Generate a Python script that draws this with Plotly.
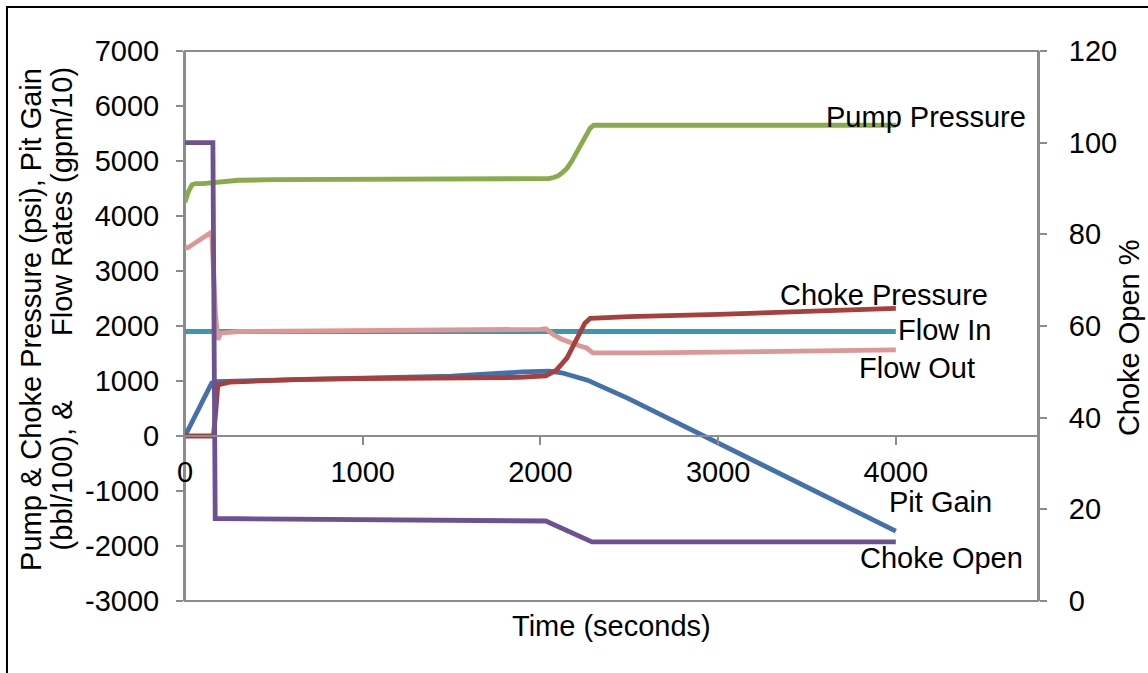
import plotly.graph_objects as go

# Well-control simulation: pressures, pit gain and flow rates vs time
FONT = "Liberation Sans, Arial, sans-serif"

# Pump pressure (psi)
pump_t = [0, 20, 40, 60, 100, 150, 170, 200, 300, 500, 800, 1000, 1200, 1400, 1600, 1800,
          2000, 2045, 2075, 2100, 2125, 2150, 2175, 2195, 2220, 2240, 2260, 2280, 2300, 2600, 3000, 3500, 4000]
pump_p = [4250, 4450, 4570, 4590, 4590, 4600, 4610, 4630, 4650, 4660, 4660, 4660, 4675, 4675, 4660, 4660,
          4670, 4680, 4700, 4730, 4790, 4870, 4990, 5110, 5250, 5380, 5500, 5600, 5650, 5650, 5650, 5650, 5650]

# Choke pressure (psi)
choke_t = [0, 160, 172, 185, 250, 650, 1000, 1500, 1880, 2030, 2090, 2150, 2200, 2250, 2280,
           2500, 3000, 3500, 4000]
choke_p = [0, 0, 400, 930, 980, 1030, 1045, 1060, 1065, 1095, 1200, 1420, 1740, 2050, 2140,
           2170, 2210, 2260, 2320]

# Pit gain (bbl/100)
pit_t = [0, 150, 170, 500, 1000, 1500, 1900, 2050, 2120, 2170, 2220, 2265, 2320, 2400, 2490, 4000]
pit_g = [0, 960, 990, 1010, 1040, 1090, 1165, 1180, 1150, 1105, 1060, 1015, 935, 820, 690, -1730]

# Flow in (gpm/10)
fin_t = [0, 1000, 2000, 3000, 4000]
fin_q = [1900, 1900, 1900, 1900, 1900]

# Flow out (gpm/10)
fout_t = [0, 15, 150, 160, 172, 185, 200, 300, 1000, 1500, 2000, 2030, 2070, 2120, 2170, 2220, 2260, 2295,
          2600, 3000, 3500, 4000]
fout_q = [3440, 3420, 3710, 3000, 2200, 1750, 1870, 1900, 1910, 1920, 1940, 1950, 1850, 1760, 1690, 1640, 1600, 1510,
          1510, 1525, 1545, 1565]

# Choke opening (%)
open_t = [0, 157, 170, 500, 1000, 1500, 2000, 2030, 2290, 3000, 4000]
open_pct = [100, 100, 18.0, 17.9, 17.8, 17.7, 17.5, 17.45, 12.9, 12.9, 12.9]

x_ticks = [0, 1000, 2000, 3000, 4000]
y_ticks = [-3000, -2000, -1000, 0, 1000, 2000, 3000, 4000, 5000, 6000, 7000]
y_labels = ["-3000", "-2000", "-1000", "0", "1000", "2000", "3000", "4000", "5000", "6000", "7000"]
y2_ticks = [0, 20, 40, 60, 80, 100, 120]

AXIS_GREY = "#8C8C8C"
LW = 4.8

fig = go.Figure()
fig.add_trace(go.Scatter(x=pit_t, y=pit_g, mode="lines", name="Pit Gain",
                         line=dict(color="#4271AB", width=LW)))
fig.add_trace(go.Scatter(x=fin_t, y=fin_q, mode="lines", name="Flow In",
                         line=dict(color="#3D97B0", width=LW)))
fig.add_trace(go.Scatter(x=fout_t, y=fout_q, mode="lines", name="Flow Out",
                         line=dict(color="#DB9896", width=LW)))
fig.add_trace(go.Scatter(x=choke_t, y=choke_p, mode="lines", name="Choke Pressure",
                         line=dict(color="#A7403D", width=LW)))
fig.add_trace(go.Scatter(x=pump_t, y=pump_p, mode="lines", name="Pump Pressure",
                         line=dict(color="#8AAB4B", width=LW)))
fig.add_trace(go.Scatter(x=open_t, y=open_pct, mode="lines", name="Choke Open", yaxis="y2",
                         line=dict(color="#6D5292", width=LW)))

label_font = dict(family=FONT, size=29, color="black")
series_labels = [
    ("Pump Pressure", 4744, 5800),
    ("Choke Pressure", 4530, 2564),
    ("Flow In", 4547, 1927),
    ("Flow Out", 4457, 1236),
    ("Pit Gain", 4552, -1200),
    ("Choke Open", 4727, -2218),
]
annotations = [dict(text=t, x=x, y=y, xref="x", yref="y", xanchor="right", yanchor="middle",
                    showarrow=False, font=label_font) for t, x, y in series_labels]

nb = "\u00a0"
annotations += [
    dict(text="Pump & Choke Pressure (psi), Pit Gain", textangle=-90, xref="paper", yref="paper",
         x=0, y=0.511, xshift=-154, xanchor="center", yanchor="middle", showarrow=False, font=label_font),
    dict(text="(bbl/100), &" + nb * 8 + "Flow Rates (gpm/10)", textangle=-90, xref="paper", yref="paper",
         x=0, y=0.532, xshift=-123, xanchor="center", yanchor="middle", showarrow=False, font=label_font),
    dict(text="Choke Open %", textangle=-90, xref="paper", yref="paper",
         x=1, y=0.478, xshift=91, xanchor="center", yanchor="middle", showarrow=False, font=label_font),
    dict(text="Time (seconds)", xref="paper", yref="paper", x=0.5, y=0, yshift=-25,
         xanchor="center", yanchor="middle", showarrow=False, font=label_font),
]

shapes = [
    # plot-area frame
    dict(type="rect", xref="paper", yref="paper", x0=0, y0=0, x1=1, y1=1,
         line=dict(color=AXIS_GREY, width=2), layer="below"),
    # outer chart border
    dict(type="rect", xref="paper", yref="paper", x0=-0.2087, y0=1.08, x1=1.2, y1=-0.2,
         line=dict(color="black", width=2)),
]

fig.update_layout(
    width=1148, height=673,
    margin=dict(l=185, r=110, t=51, b=72),
    paper_bgcolor="white", plot_bgcolor="white",
    showlegend=False,
    font=dict(family=FONT, size=29, color="black"),
    xaxis=dict(range=[0, 4800], tickvals=x_ticks, showgrid=False, zeroline=False,
               showline=True, linecolor=AXIS_GREY, linewidth=2,
               ticks="outside", ticklen=8, tickwidth=2, tickcolor=AXIS_GREY,
               anchor="free", position=0.3, ticklabelstandoff=2,
               tickfont=dict(family=FONT, size=29, color="black")),
    yaxis=dict(range=[-3000, 7000], tickvals=y_ticks, ticktext=y_labels, showgrid=False,
               zeroline=False, showline=True, linecolor=AXIS_GREY, linewidth=2,
               ticks="outside", ticklen=7, tickwidth=2, tickcolor=AXIS_GREY,
               ticklabelstandoff=11, tickfont=dict(family=FONT, size=29, color="black")),
    yaxis2=dict(range=[0, 120], tickvals=y2_ticks, overlaying="y", side="right", showgrid=False,
                zeroline=False, showline=True, linecolor=AXIS_GREY, linewidth=2,
                ticks="outside", ticklen=7, tickwidth=2, tickcolor=AXIS_GREY,
                ticklabelstandoff=16, tickfont=dict(family=FONT, size=29, color="black")),
    annotations=annotations,
    shapes=shapes,
)

fig.write_html("out.html")
